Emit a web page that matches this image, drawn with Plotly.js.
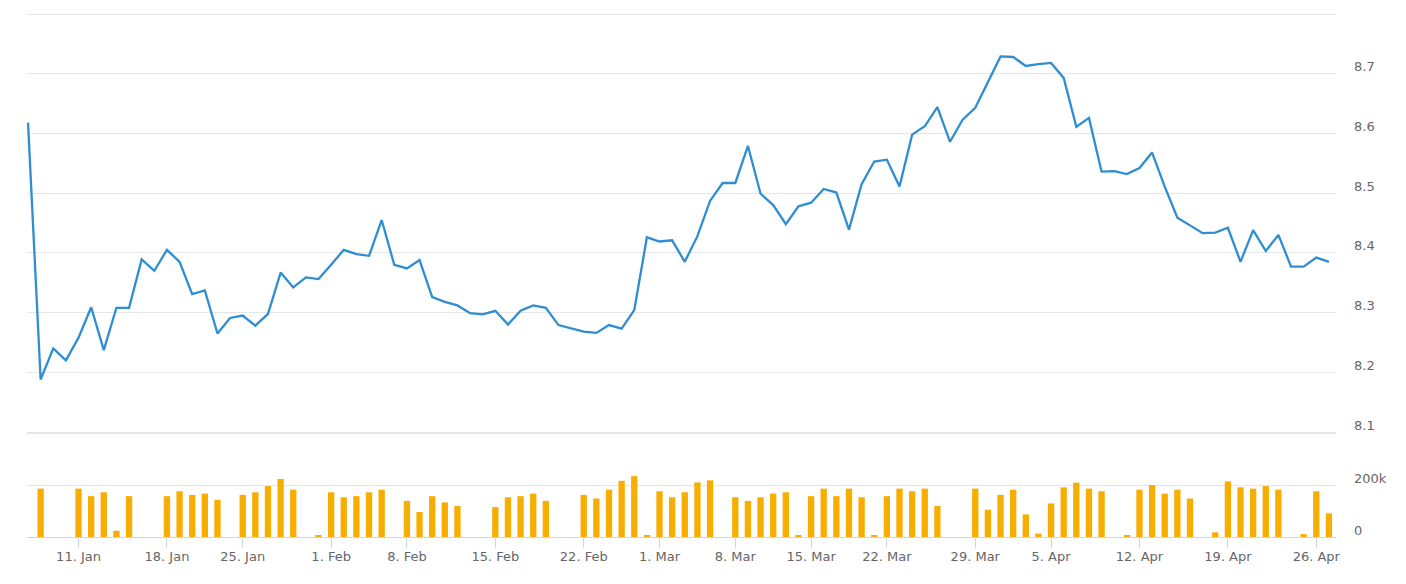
<!DOCTYPE html>
<html>
<head>
<meta charset="utf-8">
<script src="https://cdn.plot.ly/plotly-3.0.1.min.js"></script>
<style>html,body{margin:0;padding:0;background:#fff;}#chart{width:1406px;height:584px;}</style>
</head>
<body>
<div id="chart"></div>
<script>
const dates = [
"2021-01-07","2021-01-08","2021-01-09","2021-01-10","2021-01-11","2021-01-12","2021-01-13","2021-01-14","2021-01-15","2021-01-16",
"2021-01-17","2021-01-18","2021-01-19","2021-01-20","2021-01-21","2021-01-22","2021-01-23","2021-01-25","2021-01-26","2021-01-27",
"2021-01-28","2021-01-29","2021-01-30","2021-01-31","2021-02-01","2021-02-02","2021-02-03","2021-02-04","2021-02-05","2021-02-06",
"2021-02-08","2021-02-09","2021-02-10","2021-02-11","2021-02-12","2021-02-13","2021-02-14","2021-02-15","2021-02-16","2021-02-17",
"2021-02-18","2021-02-19","2021-02-20","2021-02-21","2021-02-22","2021-02-23","2021-02-24","2021-02-25","2021-02-26","2021-02-27",
"2021-03-01","2021-03-02","2021-03-03","2021-03-04","2021-03-05","2021-03-06","2021-03-08","2021-03-09","2021-03-10","2021-03-11",
"2021-03-12","2021-03-13","2021-03-15","2021-03-16","2021-03-17","2021-03-18","2021-03-19","2021-03-20","2021-03-22","2021-03-23",
"2021-03-24","2021-03-25","2021-03-26","2021-03-27","2021-03-28","2021-03-29","2021-03-30","2021-03-31","2021-04-01","2021-04-02",
"2021-04-03","2021-04-05","2021-04-06","2021-04-07","2021-04-08","2021-04-09","2021-04-10","2021-04-11","2021-04-12","2021-04-13",
"2021-04-14","2021-04-15","2021-04-16","2021-04-17","2021-04-18","2021-04-19","2021-04-20","2021-04-21","2021-04-22","2021-04-23",
"2021-04-24","2021-04-25","2021-04-26","2021-04-27"
];

const price = [
8.618,8.188,8.240,8.220,8.258,8.309,8.237,8.308,8.308,8.389,
8.370,8.405,8.385,8.331,8.337,8.265,8.291,8.295,8.278,8.298,
8.367,8.342,8.359,8.356,8.380,8.405,8.398,8.395,8.455,8.380,
8.374,8.388,8.326,8.318,8.312,8.299,8.297,8.303,8.280,8.303,
8.312,8.308,8.279,8.273,8.268,8.266,8.279,8.273,8.304,8.426,
8.419,8.421,8.385,8.428,8.487,8.517,8.517,8.579,8.499,8.480,
8.448,8.478,8.484,8.507,8.501,8.439,8.515,8.553,8.556,8.511,
8.598,8.612,8.644,8.586,8.623,8.643,8.685,8.729,8.728,8.713,
8.716,8.718,8.693,8.611,8.626,8.536,8.537,8.532,8.542,8.568,
8.511,8.459,8.446,8.433,8.434,8.442,8.385,8.438,8.403,8.430,
8.377,8.377,8.392,8.385
];

const volume = [
0,186000,0,0,186000,157000,172000,24000,157000,0,
0,157000,176000,162000,167000,143000,0,162000,172000,196000,
223000,182000,0,6000,172000,153000,157000,172000,182000,0,
139000,96000,157000,133000,119000,0,0,115000,153000,157000,
167000,139000,0,0,162000,148000,182000,216000,234000,5000,
176000,153000,172000,210000,218000,0,153000,139000,153000,167000,
172000,5000,157000,186000,157000,186000,153000,5000,157000,186000,
176000,186000,119000,0,0,186000,105000,162000,182000,87000,
13000,129000,191000,209000,186000,176000,0,5000,182000,200000,
167000,182000,148000,0,18000,214000,191000,186000,196000,182000,
0,11000,176000,91000
];

const tickDates = ["2021-01-11","2021-01-18","2021-01-25","2021-02-01","2021-02-08","2021-02-15","2021-02-22","2021-03-01","2021-03-08","2021-03-15","2021-03-22","2021-03-29","2021-04-05","2021-04-12","2021-04-19","2021-04-26"];
const tickLabels = ["11. Jan","18. Jan","25. Jan","1. Feb","8. Feb","15. Feb","22. Feb","1. Mar","8. Mar","15. Mar","22. Mar","29. Mar","5. Apr","12. Apr","19. Apr","26. Apr"];

const priceTicks = [8.1,8.2,8.3,8.4,8.5,8.6,8.7,8.8];
const priceTickText = ["8.1","8.2","8.3","8.4","8.5","8.6","8.7",""];
const volTicks = [0,200000,400000];
const volTickText = ["0","200k",""];

const font = {family: "DejaVu Sans, Verdana, sans-serif", size: 13, color: "#666666"};

const traces = [
  {
    type: "scatter", mode: "lines", x: dates, y: price, xaxis: "x", yaxis: "y",
    line: {color: "#2f8ed1", width: 2.3}, hoverinfo: "x+y", name: "Price"
  },
  {
    type: "bar", x: dates, y: volume, xaxis: "x", yaxis: "y2",
    marker: {color: "#f7ae00", line: {width: 0}}, name: "Volume"
  }
];

const layout = {
  width: 1406, height: 584,
  margin: {l: 27, r: 70, t: 12, b: 47},
  paper_bgcolor: "#ffffff", plot_bgcolor: "rgba(0,0,0,0)",
  showlegend: false, bargap: 0.5, font: font,
  xaxis: {
    type: "category", range: [-0.08, 103.56], anchor: "y2",
    tickmode: "array", tickvals: tickDates, ticktext: tickLabels,
    ticks: "outside", ticklen: 10, tickcolor: "#ccd6eb", tickwidth: 1,
    ticklabelstandoff: -3,
    showline: true, linecolor: "#ccd6eb", linewidth: 1,
    showgrid: false, zeroline: false, tickfont: font, fixedrange: true
  },
  yaxis: {
    domain: [0.19619, 1], range: [8.09665, 8.80335], side: "right", anchor: "x",
    tickmode: "array", tickvals: priceTicks, ticktext: priceTickText,
    showgrid: true, gridcolor: "#e6e6e6", gridwidth: 1, zeroline: false, showline: false,
    ticks: "", ticklabelstandoff: 17, ticklabelshift: -7, tickfont: font, fixedrange: true
  },
  yaxis2: {
    domain: [0, 0.2019], range: [0, 407692], side: "right", anchor: "x",
    tickmode: "array", tickvals: volTicks, ticktext: volTickText,
    showgrid: true, gridcolor: "#e6e6e6", gridwidth: 1, zeroline: false, showline: false,
    ticks: "", ticklabelstandoff: 17, ticklabelshift: -7, tickfont: font, fixedrange: true
  }
};

Plotly.newPlot("chart", traces, layout, {displayModeBar: false});
</script>
</body>
</html>
